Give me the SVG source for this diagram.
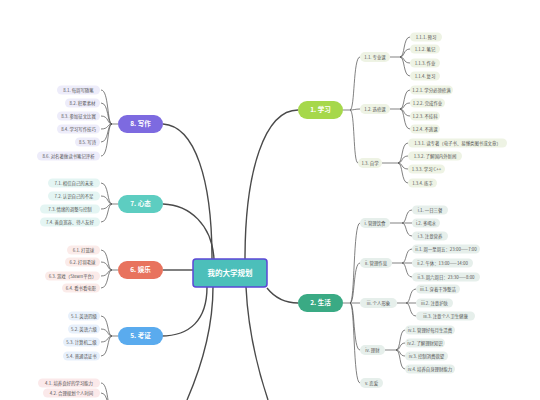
<svg xmlns="http://www.w3.org/2000/svg" width="540" height="400" viewBox="0 0 540 400">
<style>
.c{fill:none;stroke:#4a4a4a;stroke-width:1.4}
.l{fill:none;stroke:#4a4a4a;stroke-width:0.7}
text{font-family:"Noto Sans CJK SC","Noto Sans",sans-serif;text-anchor:middle}
.t{font-size:4.4px;fill:#555}
.b{font-size:6.5px;fill:#fff;font-weight:bold}
.m{font-size:7.5px;fill:#fff;font-weight:bold}
.p8{fill:#edecfa}.p7{fill:#e4f5f3}.p6{fill:#fbebe9}.p5{fill:#e7f0fb}.p4{fill:#fbe9ea}.p1{fill:#eef3e4}.p2{fill:#e6efeb}
</style>
<rect width="540" height="400" fill="#fff"/>
<g id="connectors">
<path class="c" d="M212,259C212,180 195,126 163,124"/>
<path class="c" d="M214,259C212,225 190,205 163,204"/>
<path class="c" d="M193,270L163,270"/>
<path class="c" d="M207,287C207,320 190,336 161,336"/>
<path class="c" d="M213,287C213,330 200,370 187,400"/>
<path class="c" d="M246,287C248,330 258,370 268,400"/>
<path class="c" d="M267,288C275,298 285,303 298,303"/>
<path class="c" d="M245,259C245,170 265,110 298,110"/>
<path class="l" d="M118,124H112M112,124C107,124 109,90 101,90M112,124C107,124 109,103 101,103M112,124C107,124 109,116 101,116M112,124C107,124 109,129 101,129M112,124C107,124 109,142 101,142M112,124C107,124 109,156 101,156"/>
<path class="l" d="M118,204H112M112,204C107,204 109,183 101,183M112,204C107,204 109,196 101,196M112,204C107,204 109,209 101,209M112,204C107,204 109,222 101,222"/>
<path class="l" d="M118,270H112M112,270C107,270 109,250 101,250M112,270C107,270 109,262 101,262M112,270C107,270 109,276 101,276M112,270C107,270 109,288 101,288"/>
<path class="l" d="M118,336H112M112,336C107,336 109,316 101,316M112,336C107,336 109,329 101,329M112,336C107,336 109,342 101,342M112,336C107,336 109,356 101,356"/>
<path class="l" d="M112,412C107,412 109,383 101,383M112,412C107,412 109,393 101,393"/>
<path class="l" d="M343,110H350M350,110C355,110 353,57 360,57M350,110C354,110 355,109 360,109M350,110C355,110 353,163 358,163"/>
<path class="l" d="M390,57H400M400,57C405,57 403,37 410,37M400,57C405,57 403,49 410,49M400,57C405,57 403,63 410,63M400,57C405,57 403,76 410,76"/>
<path class="l" d="M390,109H400M400,109C405,109 403,90 410,90M400,109C405,109 403,103 410,103M400,109C405,109 403,116 410,116M400,109C405,109 403,129 410,129"/>
<path class="l" d="M382,163H398M398,163C403,163 401,143 408,143M398,163C403,163 401,156 408,156M398,163C403,163 401,169 408,169M398,163C403,163 401,183 408,183"/>
<path class="l" d="M343,303H350M350,303C355,303 353,223 360,223M350,303C355,303 353,263 360,263M350,303H360M350,303C355,303 353,350 360,350M350,303C355,303 353,383 360,383"/>
<path class="l" d="M390,223H402M402,223C407,223 405,210 412,210M402,223H412M402,223C407,223 405,236 412,236"/>
<path class="l" d="M392,263H402M402,263C407,263 405,249 412,249M402,263H412M402,263C407,263 405,277 412,277"/>
<path class="l" d="M397,303H406M406,303C411,303 409,289 416,289M406,303H416M406,303C411,303 409,316 416,316"/>
<path class="l" d="M385,350H396M396,350C401,350 399,330 405,330M396,350C401,350 399,343 405,343M396,350C401,350 399,356 405,356M396,350C401,350 399,369 405,369"/>
</g>
<g id="center"><rect x="193" y="259" width="74" height="28" rx="3" fill="#4cbfba" stroke="#5b47d6" stroke-width="1.5"/><text class="m" x="230" y="275.5">我的大学规划</text></g>
<g id="n1"><rect x="298" y="101" width="45" height="18" rx="9" fill="#a6d84b"/><text class="b" x="320.5" y="112.3">1. 学习</text></g>
<g id="n2"><rect x="298" y="294" width="45" height="18" rx="9" fill="#3aaa84"/><text class="b" x="320.5" y="305.3">2. 生活</text></g>
<g id="n5"><rect x="118" y="327" width="45" height="18" rx="9" fill="#5aabee"/><text class="b" x="140.5" y="338.3">5. 考证</text></g>
<g id="n6"><rect x="118" y="261" width="45" height="18" rx="9" fill="#e8735e"/><text class="b" x="140.5" y="272.3">6. 娱乐</text></g>
<g id="n7"><rect x="118" y="195" width="45" height="18" rx="9" fill="#5dcdc1"/><text class="b" x="140.5" y="206.3">7. 心态</text></g>
<g id="n8"><rect x="118" y="115" width="45" height="18" rx="9" fill="#7d6ae0"/><text class="b" x="140.5" y="126.3">8. 写作</text></g>
<g id="n8_1"><rect class="p8" x="57" y="85.5" width="43" height="9" rx="4.5"/><text class="t" x="78.5" y="91.5">8.1. 每周写随笔</text></g>
<g id="n8_2"><rect class="p8" x="65" y="98.5" width="35" height="9" rx="4.5"/><text class="t" x="82.5" y="104.5">8.2. 积累素材</text></g>
<g id="n8_3"><rect class="p8" x="57" y="111.5" width="43" height="9" rx="4.5"/><text class="t" x="78.5" y="117.5">8.3. 参加征文比赛</text></g>
<g id="n8_4"><rect class="p8" x="57" y="124.5" width="43" height="9" rx="4.5"/><text class="t" x="78.5" y="130.5">8.4. 学习写作技巧</text></g>
<g id="n8_5"><rect class="p8" x="75" y="137.5" width="25" height="9" rx="4.5"/><text class="t" x="87.5" y="143.5">8.5. 写诗</text></g>
<g id="n8_6"><rect class="p8" x="37" y="151.5" width="63" height="9" rx="4.5"/><text class="t" x="68.5" y="157.5">8.6. 对名著做读书笔记评析</text></g>
<g id="n7_1"><rect class="p7" x="48" y="178.5" width="52" height="9" rx="4.5"/><text class="t" x="74" y="184.5">7.1. 相信自己的未来</text></g>
<g id="n7_2"><rect class="p7" x="48" y="191.5" width="52" height="9" rx="4.5"/><text class="t" x="74" y="197.5">7.2. 认识自己的不足</text></g>
<g id="n7_3"><rect class="p7" x="40" y="204.5" width="60" height="9" rx="4.5"/><text class="t" x="70" y="210.5">7.3. 情绪的调整与控制</text></g>
<g id="n7_4"><rect class="p7" x="40" y="217.5" width="60" height="9" rx="4.5"/><text class="t" x="70" y="223.5">7.4. 善良宽容、待人友好</text></g>
<g id="n6_1"><rect class="p6" x="67" y="245.5" width="33" height="9" rx="4.5"/><text class="t" x="83.5" y="251.5">6.1. 打篮球</text></g>
<g id="n6_2"><rect class="p6" x="65" y="257.5" width="35" height="9" rx="4.5"/><text class="t" x="82.5" y="263.5">6.2. 打羽毛球</text></g>
<g id="n6_3"><rect class="p6" x="45" y="271.5" width="55" height="9" rx="4.5"/><text class="t" x="72.5" y="277.5">6.3. 游戏（Steam平台）</text></g>
<g id="n6_4"><rect class="p6" x="62" y="283.5" width="38" height="9" rx="4.5"/><text class="t" x="81" y="289.5">6.4. 看书看电影</text></g>
<g id="n5_1"><rect class="p5" x="68" y="311.5" width="32" height="9" rx="4.5"/><text class="t" x="84" y="317.5">5.1. 英语四级</text></g>
<g id="n5_2"><rect class="p5" x="68" y="324.5" width="32" height="9" rx="4.5"/><text class="t" x="84" y="330.5">5.2. 英语六级</text></g>
<g id="n5_3"><rect class="p5" x="63" y="337.5" width="37" height="9" rx="4.5"/><text class="t" x="81.5" y="343.5">5.3. 计算机二级</text></g>
<g id="n5_4"><rect class="p5" x="63" y="351.5" width="37" height="9" rx="4.5"/><text class="t" x="81.5" y="357.5">5.4. 普通话证书</text></g>
<g id="n4_1"><rect class="p4" x="38" y="378.5" width="62" height="9" rx="4.5"/><text class="t" x="69" y="384.5">4.1. 培养良好的学习能力</text></g>
<g id="n4_2"><rect class="p4" x="43" y="388.5" width="57" height="9" rx="4.5"/><text class="t" x="71.5" y="394.5">4.2. 合理规划个人时间</text></g>
<g id="n1_1"><rect class="p1" x="360" y="52" width="30" height="10" rx="5"/><text class="t" x="375" y="58.5">1.1. 专业课</text></g>
<g id="n1_2"><rect class="p1" x="360" y="104" width="30" height="10" rx="5"/><text class="t" x="375" y="110.5">1.2. 选修课</text></g>
<g id="n1_3"><rect class="p1" x="358" y="158" width="24" height="10" rx="5"/><text class="t" x="370" y="164.5">1.3. 自学</text></g>
<g id="n1_1_1"><rect class="p1" x="410" y="32.5" width="32" height="9" rx="4.5"/><text class="t" x="426" y="38.5">1.1.1. 预习</text></g>
<g id="n1_1_2"><rect class="p1" x="410" y="44.5" width="30" height="9" rx="4.5"/><text class="t" x="425" y="50.5">1.1.2. 笔记</text></g>
<g id="n1_1_3"><rect class="p1" x="410" y="58.5" width="30" height="9" rx="4.5"/><text class="t" x="425" y="64.5">1.1.3. 作业</text></g>
<g id="n1_1_4"><rect class="p1" x="410" y="71.5" width="30" height="9" rx="4.5"/><text class="t" x="425" y="77.5">1.1.4. 复习</text></g>
<g id="n1_2_1"><rect class="p1" x="410" y="85.5" width="43" height="9" rx="4.5"/><text class="t" x="431.5" y="91.5">1.2.1. 学分必须修满</text></g>
<g id="n1_2_2"><rect class="p1" x="410" y="98.5" width="35" height="9" rx="4.5"/><text class="t" x="427.5" y="104.5">1.2.2. 完成作业</text></g>
<g id="n1_2_3"><rect class="p1" x="410" y="111.5" width="30" height="9" rx="4.5"/><text class="t" x="425" y="117.5">1.2.3. 不挂科</text></g>
<g id="n1_2_4"><rect class="p1" x="410" y="124.5" width="30" height="9" rx="4.5"/><text class="t" x="425" y="130.5">1.2.4. 不逃课</text></g>
<g id="n1_3_1"><rect class="p1" x="408" y="138.5" width="99" height="9" rx="4.5"/><text class="t" x="457.5" y="144.5">1.3.1. 读专著（电子书、易懂类图书或文章）</text></g>
<g id="n1_3_2"><rect class="p1" x="408" y="151.5" width="54" height="9" rx="4.5"/><text class="t" x="435" y="157.5">1.3.2. 了解国内外新闻</text></g>
<g id="n1_3_3"><rect class="p1" x="408" y="164.5" width="37" height="9" rx="4.5"/><text class="t" x="426.5" y="170.5">1.3.3. 学习 C++</text></g>
<g id="n1_3_4"><rect class="p1" x="408" y="178.5" width="29" height="9" rx="4.5"/><text class="t" x="422.5" y="184.5">1.3.4. 练字</text></g>
<g id="n2_1"><rect class="p2" x="360" y="218" width="30" height="10" rx="5"/><text class="t" x="375" y="224.5">i. 管理饮食</text></g>
<g id="n2_2"><rect class="p2" x="360" y="258" width="32" height="10" rx="5"/><text class="t" x="376" y="264.5">ii. 管理作息</text></g>
<g id="n2_3"><rect class="p2" x="360" y="298" width="37" height="10" rx="5"/><text class="t" x="378.5" y="304.5">iii. 个人形象</text></g>
<g id="n2_4"><rect class="p2" x="360" y="345" width="25" height="10" rx="5"/><text class="t" x="372.5" y="351.5">iv. 理财</text></g>
<g id="n2_5"><rect class="p2" x="360" y="378" width="23" height="10" rx="5"/><text class="t" x="371.5" y="384.5">v. 恋爱</text></g>
<g id="n2_1_1"><rect class="p2" x="412" y="205.5" width="36" height="9" rx="4.5"/><text class="t" x="430" y="211.5">i.1. 一日三餐</text></g>
<g id="n2_1_2"><rect class="p2" x="412" y="218.5" width="28" height="9" rx="4.5"/><text class="t" x="426" y="224.5">i.2. 多喝水</text></g>
<g id="n2_1_3"><rect class="p2" x="412" y="231.5" width="36" height="9" rx="4.5"/><text class="t" x="430" y="237.5">i.3. 注意营养</text></g>
<g id="n2_2_1"><rect class="p2" x="412" y="244.5" width="68" height="9" rx="4.5"/><text class="t" x="446" y="250.5">ii.1. 周一至周五：23:00——7:00</text></g>
<g id="n2_2_2"><rect class="p2" x="412" y="258.5" width="61" height="9" rx="4.5"/><text class="t" x="442.5" y="264.5">ii.2. 午休：13:00——14:00</text></g>
<g id="n2_2_3"><rect class="p2" x="412" y="272.5" width="68" height="9" rx="4.5"/><text class="t" x="446" y="278.5">ii.3. 周六周日：23:30——8:00</text></g>
<g id="n2_3_1"><rect class="p2" x="416" y="284.5" width="44" height="9" rx="4.5"/><text class="t" x="438" y="290.5">iii.1. 穿着干净整洁</text></g>
<g id="n2_3_2"><rect class="p2" x="416" y="298.5" width="37" height="9" rx="4.5"/><text class="t" x="434.5" y="304.5">iii.2. 注意护肤</text></g>
<g id="n2_3_3"><rect class="p2" x="416" y="311.5" width="59" height="9" rx="4.5"/><text class="t" x="445.5" y="317.5">iii.3. 注意个人卫生健康</text></g>
<g id="n2_4_1"><rect class="p2" x="405" y="325.5" width="50" height="9" rx="4.5"/><text class="t" x="430" y="331.5">iv.1. 管理好每月生活费</text></g>
<g id="n2_4_2"><rect class="p2" x="405" y="338.5" width="40" height="9" rx="4.5"/><text class="t" x="425" y="344.5">iv.2. 了解理财知识</text></g>
<g id="n2_4_3"><rect class="p2" x="405" y="351.5" width="43" height="9" rx="4.5"/><text class="t" x="426.5" y="357.5">iv.3. 控制消费欲望</text></g>
<g id="n2_4_4"><rect class="p2" x="405" y="364.5" width="50" height="9" rx="4.5"/><text class="t" x="430" y="370.5">iv.4. 培养自身理财能力</text></g>
</svg>
